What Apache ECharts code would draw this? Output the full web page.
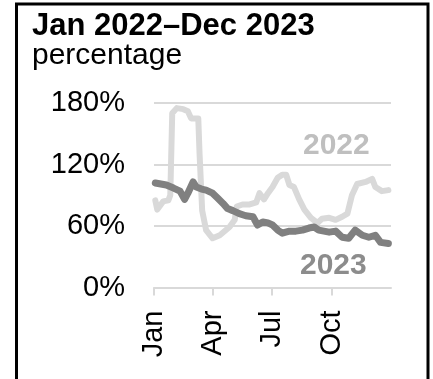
<!DOCTYPE html>
<html>
<head>
<meta charset="utf-8">
<script src="https://cdn.jsdelivr.net/npm/echarts@6/dist/echarts.min.js"></script>
<style>
html,body{margin:0;padding:0;background:#fff;}
#c{width:433px;height:379px;}
</style>
</head>
<body>
<div id="c"></div>
<script>
// Day-of-year positions and values (percent)
const days2022 = [2,5,14,22,25,28,35,45,52,57,68,70,74,80,90,101,116,124,127,136,147,157,162,169,175,182,190,197,203,208,215,223,231,241,251,258,269,279,289,297,304,312,325,335,340,350,360];
const values2022 = [85,76,84,85,90,170,175,174,172,165,165,130,75,56,48,51,59,66,79,81,81,83,92,86,92,98,107,110,110,100,98,86,76,68,63,67,68,66,69,72,90,101,103,106,98,94,95];
const days2023 = [2,19,30,40,47,52,60,65,73,80,90,98,106,113,121,131,141,152,159,167,175,182,190,197,208,218,228,238,246,253,261,269,279,289,299,309,320,330,340,348,360];
const values2023 = [102,100,97,94,86,92,103,98,96,95,92,87,82,77,75,72,70,69,61,64,63,61,56,53,55,55,56,58,59,56,55,54,55,49,48,56,51,49,51,44,43];
const monthTicks = [0,90,181,273];
const monthLabels = ['Jan','Apr','Jul','Oct'];
const titleText = 'Jan 2022\u2013Dec 2023';
const subtitleText = 'percentage';
const seriesNames = ['2022','2023'];

const pairs = (d, v) => d.map((x, i) => [x, v[i]]);
const FONT = '"Liberation Sans", Arial, sans-serif';

const chart = echarts.init(document.getElementById('c'), null, {renderer: 'canvas'});
chart.setOption({
  animation: false,
  backgroundColor: '#fff',
  grid: {left: 154, right: 42, top: 103, bottom: 91.5, containLabel: false},
  xAxis: {
    type: 'value', min: 0, max: 364,
    axisLine: {show: true, lineStyle: {color: '#d9d9d9', width: 2}},
    axisTick: {show: true, length: 8, lineStyle: {color: '#d9d9d9', width: 2}, customValues: monthTicks},
    axisLabel: {
      show: true, rotate: 90, margin: 23, color: '#000', fontSize: 29, fontFamily: FONT,
      customValues: monthTicks,
      formatter: v => { const i = monthTicks.indexOf(v); return i >= 0 ? monthLabels[i] : ''; }
    },
    splitLine: {show: false}
  },
  yAxis: {
    type: 'value', min: 0, max: 180, interval: 60,
    axisLine: {show: false}, axisTick: {show: false},
    axisLabel: {margin: 29, color: '#000', fontSize: 29, fontFamily: FONT, formatter: v => v + '%'},
    splitLine: {show: true, lineStyle: {color: '#d9d9d9', width: 2}}
  },
  title: [
    {text: titleText, left: 27, top: 6, textStyle: {fontSize: 31, fontWeight: 'bold', color: '#000', fontFamily: FONT}},
    {text: subtitleText, left: 27, top: 36, textStyle: {fontSize: 30, fontWeight: 'normal', color: '#000', fontFamily: FONT}}
  ],
  graphic: [
    {type: 'rect', shape: {x: 16.5, y: 4, width: 411.5, height: 420}, style: {fill: 'none', stroke: '#000', lineWidth: 3}, z: 100},
    {type: 'text', left: 303, top: 131, style: {text: seriesNames[0], fill: '#bfbfbf', font: 'bold 30px ' + FONT}},
    {type: 'text', left: 300, top: 251, style: {text: seriesNames[1], fill: '#8c8c8c', font: 'bold 30px ' + FONT}}
  ],
  series: [
    {name: seriesNames[0], type: 'line', data: pairs(days2022, values2022), showSymbol: false, symbol: 'none',
     lineStyle: {color: '#d9d9d9', width: 6, cap: 'round', join: 'round'}, z: 2},
    {name: seriesNames[1], type: 'line', data: pairs(days2023, values2023), showSymbol: false, symbol: 'none',
     lineStyle: {color: '#808080', width: 7, cap: 'round', join: 'round'}, z: 3}
  ]
});
</script>
</body>
</html>
